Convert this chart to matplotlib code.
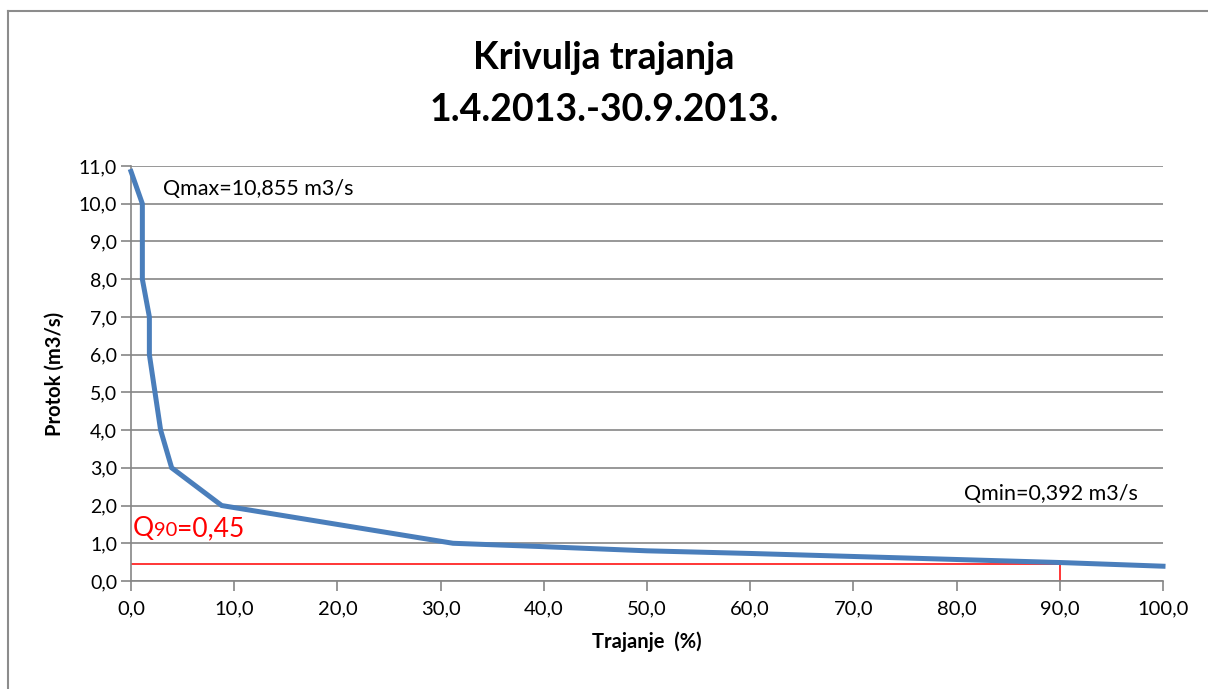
import matplotlib
matplotlib.use("Agg")
import matplotlib.pyplot as plt
from matplotlib.lines import Line2D

# ---- data ----
duration = [0.0, 1.1, 1.1, 1.78, 1.78, 2.87, 3.94, 8.79, 31.2, 40.0, 50.0, 60.0, 70.0, 80.0, 90.0, 100.0]
flow = [10.855, 10.0, 8.0, 7.0, 6.0, 4.0, 3.0, 2.0, 1.0, 0.91, 0.80, 0.73, 0.65, 0.57, 0.49, 0.392]
q90_value = 0.45
q90_duration = 90.0
x_ticks = [0, 10, 20, 30, 40, 50, 60, 70, 80, 90, 100]
y_ticks = [0, 1, 2, 3, 4, 5, 6, 7, 8, 9, 10, 11]
title_lines = ["Krivulja trajanja", "1.4.2013.-30.9.2013."]

FONT = ["Lato", "DejaVu Sans"]
plt.rcParams["font.family"] = FONT

W, H = 1208, 689
fig = plt.figure(figsize=(W / 100, H / 100), dpi=100)
ax = fig.add_axes([131 / W, (H - 581) / H, 1032 / W, 415 / H])

GRID = "#868686"
ax.plot(duration, flow, color="#4A7EBB", lw=3.6, solid_joinstyle="miter", zorder=3, clip_on=False)
ax.plot([0, q90_duration, q90_duration], [q90_value, q90_value, 0], color="#FF0000", lw=1.1, zorder=2)

ax.set_xlim(0, 100)
ax.set_ylim(0, 11)
ax.set_xticks(x_ticks)
ax.set_yticks(y_ticks)
ax.set_xticklabels([f"{v:.1f}".replace(".", ",") for v in x_ticks])
ax.set_yticklabels([f"{v:.1f}".replace(".", ",") for v in y_ticks])
ax.yaxis.grid(True, color=GRID, lw=1.2)
ax.set_axisbelow(True)
for s in ["top", "right"]:
    ax.spines[s].set_visible(False)
for s in ["left", "bottom"]:
    ax.spines[s].set_color(GRID)
    ax.spines[s].set_linewidth(1.2)
ax.tick_params(axis="both", direction="out", length=7, width=1.2, color=GRID, labelcolor="black")
ax.tick_params(axis="x", pad=7, labelsize=14.5)
ax.tick_params(axis="y", pad=3, labelsize=14)

ax.set_xlabel("Trajanje  (%)", fontsize=14.5, fontweight="bold", labelpad=10)
ax.set_ylabel("Protok (m3/s)", fontsize=14.5, fontweight="bold", labelpad=10)

fig.text(0.5, (H - 58) / H, title_lines[0], ha="center", va="center", fontsize=27, fontweight="bold")
fig.text(0.5, (H - 110) / H, title_lines[1], ha="center", va="center", fontsize=27, fontweight="bold")

ax.text(3.1, 10.4, "Qmax=10,855 m3/s", fontsize=15.5, va="center", ha="left")
ax.text(97.6, 2.3, "Qmin=0,392 m3/s", fontsize=15.5, va="center", ha="right")

# Q90 label with smaller "90"
fig.canvas.draw()
t1 = ax.text(0.15, 1.18, "Q", fontsize=19, color="#FF0000", va="baseline", ha="left")
fig.canvas.draw()
r = fig.canvas.get_renderer()
bb = t1.get_window_extent(r)
x2 = ax.transData.inverted().transform((bb.x1, 0))[0]
t2 = ax.text(x2, 1.18, "90", fontsize=14.5, color="#FF0000", va="baseline", ha="left")
bb2 = t2.get_window_extent(r)
x3 = ax.transData.inverted().transform((bb2.x1, 0))[0]
ax.text(x3, 1.18, "=0,45", fontsize=19, color="#FF0000", va="baseline", ha="left")

# chart frame
fig.add_artist(Line2D([8 / W, 8 / W], [0, (H - 10.7) / H], color="#8C8C8C", lw=1.5, transform=fig.transFigure))
fig.add_artist(Line2D([8 / W, 1], [(H - 10.7) / H, (H - 10.7) / H], color="#8C8C8C", lw=1.5, transform=fig.transFigure))

fig.savefig("out.png", dpi=100)
